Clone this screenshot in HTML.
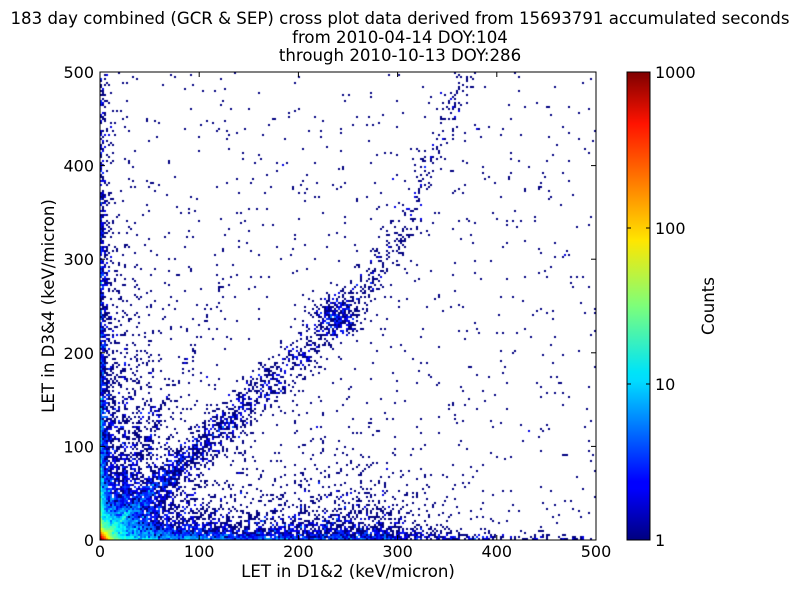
<!DOCTYPE html>
<html><head><meta charset="utf-8"><style>
body{margin:0;background:#fff;width:800px;height:600px;overflow:hidden;font-family:"DejaVu Sans","Liberation Sans",sans-serif;}
#c{position:absolute;left:0;top:0}
</style></head><body>
<canvas id="c" width="800" height="600"></canvas>
<svg width="800" height="600" style="position:absolute;left:0;top:0" font-family="DejaVu Sans, Liberation Sans, sans-serif">
<defs><linearGradient id="jet" x1="0" y1="1" x2="0" y2="0">
<stop offset="0" stop-color="#00007f"/><stop offset="0.11" stop-color="#0000ff"/><stop offset="0.125" stop-color="#0000ff"/><stop offset="0.34" stop-color="#00dcff"/><stop offset="0.36" stop-color="#00e4f7"/><stop offset="0.5" stop-color="#7dff7a"/><stop offset="0.64" stop-color="#ffe600"/><stop offset="0.66" stop-color="#ffd400"/><stop offset="0.89" stop-color="#ff1300"/><stop offset="1" stop-color="#7f0000"/></linearGradient></defs>
<g font-size="16.6" text-anchor="middle" fill="#000">
<text x="400" y="24">183 day combined (GCR &amp; SEP) cross plot data derived from 15693791 accumulated seconds</text>
<text x="400" y="43">from 2010-04-14 DOY:104</text>
<text x="400" y="61">through 2010-10-13 DOY:286</text>
<text x="348" y="577">LET in D1&amp;2 (keV/micron)</text>
<text transform="translate(54,306) rotate(-90)">LET in D3&amp;4 (keV/micron)</text>
<text transform="translate(714,306) rotate(-90)">Counts</text>
</g>
<rect x="100" y="72" width="496" height="468" fill="none" stroke="#000" stroke-width="1"/>
<g font-size="16" fill="#000" text-anchor="middle" id="xt"></g>
<rect x="627" y="72" width="23" height="468" fill="url(#jet)" stroke="#000"/>
<g font-size="16" fill="#000">
<text x="655" y="78">1000</text><text x="655" y="234">100</text><text x="655" y="390">10</text><text x="655" y="546">1</text>
</g>
<g id="ticks" stroke="#000"></g>
</svg>
<script>
var svgns="http://www.w3.org/2000/svg";
var xt=document.getElementById('xt'),tk=document.getElementById('ticks');
function T(x,y,s,a){var t=document.createElementNS(svgns,'text');t.setAttribute('x',x);t.setAttribute('y',y);if(a)t.setAttribute('text-anchor',a);t.textContent=s;xt.appendChild(t);}
function L(x1,y1,x2,y2){var l=document.createElementNS(svgns,'line');l.setAttribute('x1',x1);l.setAttribute('y1',y1);l.setAttribute('x2',x2);l.setAttribute('y2',y2);tk.appendChild(l);}
for(var i=0;i<=5;i++){var x=100+i*99.2;T(x,557,String(i*100));L(x,540,x,535);L(x,72,x,77);
var y=540-i*93.6;T(94,y+6,String(i*100),'end');L(100,y,105,y);L(596,y,591,y);}
[72,228,384,540].forEach(function(y){L(627,y,631,y);L(650,y,646,y);});
var s=12345;function r(){s=(s*1103515245+12345)&0x7fffffff;return s/0x7fffffff;}
function pois(l){if(l>30)return Math.max(0,Math.round(l+Math.sqrt(l)*(r()-0.5)*3));var L=Math.exp(-l),k=0,p=1;do{k++;p*=r();}while(p>L);return k-1;}
function jet(t){function c(v){return Math.max(0,Math.min(1,v));}
var R=c(Math.min(4*t-1.5,-4*t+4.5)),G=c(Math.min(4*t-0.5,-4*t+3.5)),B=c(Math.min(4*t+0.5,-4*t+2.5));
return 'rgb('+Math.round(R*255)+','+Math.round(G*255)+','+Math.round(B*255)+')';}
var ctx=document.getElementById('c').getContext('2d');
function g(d,s){return Math.exp(-d*d/(2*s*s));}
function diag(u){if(u<220)return u*0.97;if(u<300)return 213+(u-220)*1.3;return 317+(u-300)*2.6;}
var nx=248,ny=234;
for(var i=0;i<nx;i++)for(var j=0;j<ny;j++){
var u=(i+0.5)*500/nx,v=(j+0.5)*500/ny;
var l=0.016;
var th=3+16*Math.exp(-u/70)+7*g(u-240,60);
l+= (20*Math.exp(-u/15)+10*Math.exp(-u/200))*Math.exp(-v/th);
l+= 0.5*g(u-250,50)*Math.exp(-v/35);
l+= (20*Math.exp(-v/30)+10*Math.exp(-v/200))*Math.exp(-u/3);
l+= 1.2*Math.exp(-v/150)*Math.exp(-u/7);
l+= 1.2*Math.exp(-v/120)*Math.exp(-u/14);
var w=9+0.03*u;
l+= (2.0*Math.exp(-u/140)+3*Math.exp(-u/30))*g(v-diag(u),w);
l+= 1.3*g(u-240,13)*g(v-238,11);
l+= 3*Math.exp(-u/30)*g(v-2.2*u,2+0.06*u);
l+= 2*Math.exp(-u/25)*g(v-0.55*u,3+0.05*u);
[25,37,50].forEach(function(c){l+=0.9*g(u-c,2)*Math.exp(-v/110);});
l+= 3*Math.exp(-(u+v)/55);
l+= 1500*Math.exp(-(u+v)/3);
l+= 50*Math.exp(-u/8)*Math.exp(-v/2.5)+50*Math.exp(-v/8)*Math.exp(-u/2.5);
l+= 25*Math.exp(-u/15)*g(v-u,2.5);
var n=pois(l);if(n<1)continue;
var t=Math.min(1,Math.log(n)/Math.LN10/3);
ctx.fillStyle=jet(t);
ctx.fillRect(100+i*2,540-(j+1)*2,2,2);
}
</script>
</body></html>
